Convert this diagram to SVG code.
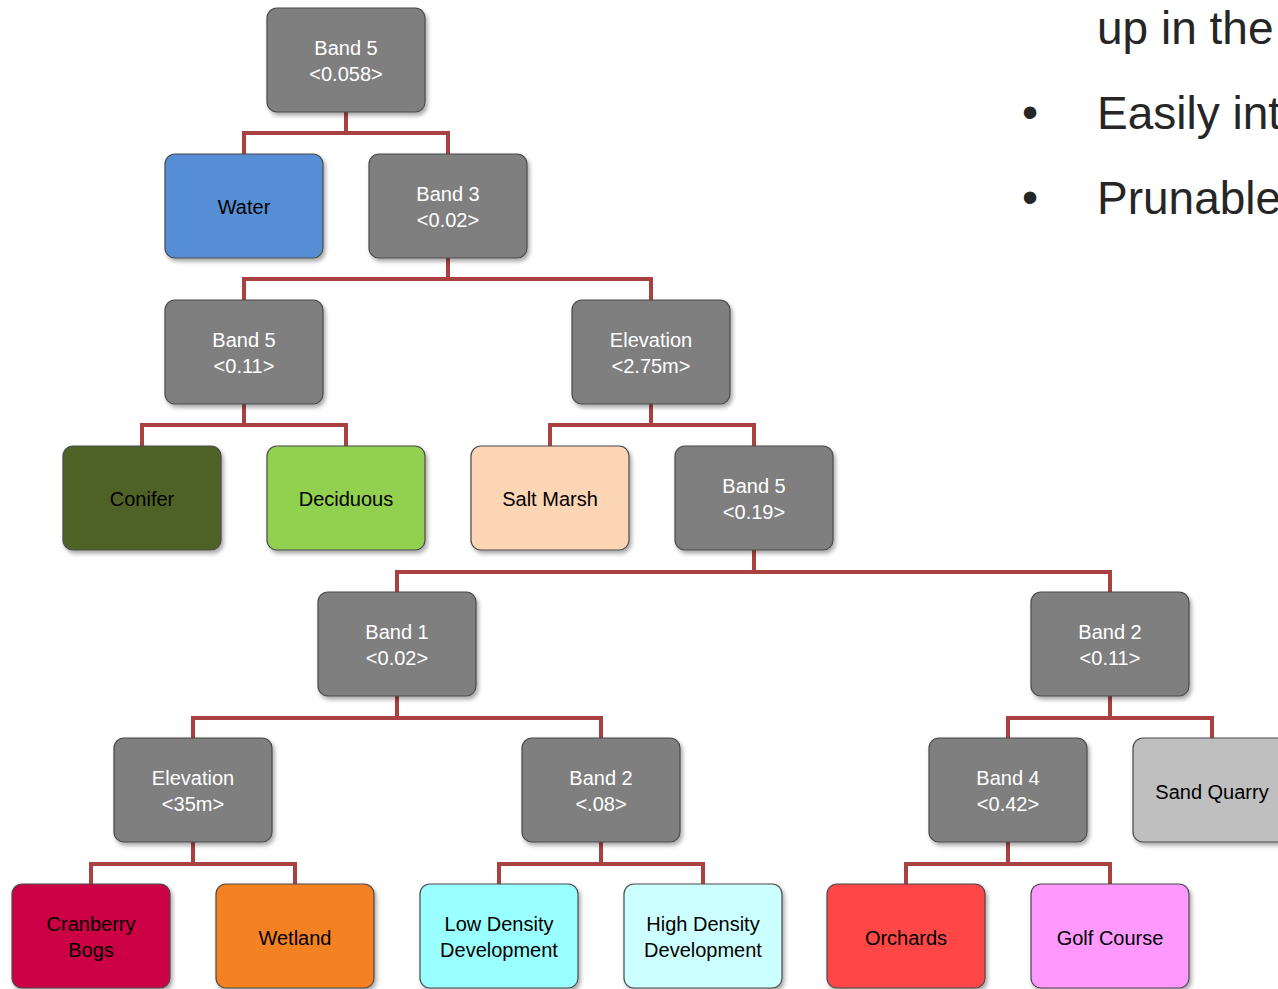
<svg xmlns="http://www.w3.org/2000/svg" width="1278" height="989" viewBox="0 0 1278 989">
<defs>
<filter id="sh" x="-10%" y="-10%" width="125%" height="130%">
<feDropShadow dx="2" dy="3" stdDeviation="2" flood-color="#000" flood-opacity="0.35"/>
</filter>
<style>
.n rect{stroke:#4a4a4a;stroke-width:1.2;filter:url(#sh)}
.g rect{fill:#7f7f7f}
.g text{fill:#ffffff}
text{font-family:"Liberation Sans",Arial,sans-serif;font-size:20px;text-anchor:middle;fill:#000}
.c path{fill:none;stroke:#aa4141;stroke-width:4}
.r text{font-size:46px;text-anchor:start;fill:#262626}
</style>
</defs>
<g class="c" id="connectors">
<path d="M346 112V133H244V154M346 133H448V154"/>
<path d="M448 258V279H244V300M448 279H651V300"/>
<path d="M244 404V425H142V446M244 425H346V446"/>
<path d="M651 404V425H550V446M651 425H754V446"/>
<path d="M754 550V572H397V592M754 572H1110V592"/>
<path d="M397 696V718H193V738M397 718H601V738"/>
<path d="M1110 696V718H1008V738M1110 718H1212V738"/>
<path d="M193 842V864H91V884M193 864H295V884"/>
<path d="M601 842V864H499V884M601 864H703V884"/>
<path d="M1008 842V864H906V884M1008 864H1110V884"/>
</g>
<g id="n1" class="n g"><rect x="267" y="8" width="158" height="104" rx="10"/><text x="346" y="55">Band 5</text><text x="346" y="81">&lt;0.058&gt;</text></g>
<g id="n2" class="n"><rect x="165" y="154" width="158" height="104" rx="10" fill="#558ed5"/><text x="244" y="214">Water</text></g>
<g id="n3" class="n g"><rect x="369" y="154" width="158" height="104" rx="10"/><text x="448" y="201">Band 3</text><text x="448" y="227">&lt;0.02&gt;</text></g>
<g id="n4" class="n g"><rect x="165" y="300" width="158" height="104" rx="10"/><text x="244" y="347">Band 5</text><text x="244" y="373">&lt;0.11&gt;</text></g>
<g id="n5" class="n g"><rect x="572" y="300" width="158" height="104" rx="10"/><text x="651" y="347">Elevation</text><text x="651" y="373">&lt;2.75m&gt;</text></g>
<g id="n6" class="n"><rect x="63" y="446" width="158" height="104" rx="10" fill="#4f6228"/><text x="142" y="506">Conifer</text></g>
<g id="n7" class="n"><rect x="267" y="446" width="158" height="104" rx="10" fill="#92d050"/><text x="346" y="506">Deciduous</text></g>
<g id="n8" class="n"><rect x="471" y="446" width="158" height="104" rx="10" fill="#fcd5b5"/><text x="550" y="506">Salt Marsh</text></g>
<g id="n9" class="n g"><rect x="675" y="446" width="158" height="104" rx="10"/><text x="754" y="493">Band 5</text><text x="754" y="519">&lt;0.19&gt;</text></g>
<g id="n10" class="n g"><rect x="318" y="592" width="158" height="104" rx="10"/><text x="397" y="639">Band 1</text><text x="397" y="665">&lt;0.02&gt;</text></g>
<g id="n11" class="n g"><rect x="1031" y="592" width="158" height="104" rx="10"/><text x="1110" y="639">Band 2</text><text x="1110" y="665">&lt;0.11&gt;</text></g>
<g id="n12" class="n g"><rect x="114" y="738" width="158" height="104" rx="10"/><text x="193" y="785">Elevation</text><text x="193" y="811">&lt;35m&gt;</text></g>
<g id="n13" class="n g"><rect x="522" y="738" width="158" height="104" rx="10"/><text x="601" y="785">Band 2</text><text x="601" y="811">&lt;.08&gt;</text></g>
<g id="n14" class="n g"><rect x="929" y="738" width="158" height="104" rx="10"/><text x="1008" y="785">Band 4</text><text x="1008" y="811">&lt;0.42&gt;</text></g>
<g id="n15" class="n"><rect x="1133" y="738" width="158" height="104" rx="10" fill="#bfbfbf"/><text x="1212" y="799">Sand Quarry</text></g>
<g id="n16" class="n"><rect x="12" y="884" width="158" height="104" rx="10" fill="#cc0044"/><text x="91" y="931">Cranberry</text><text x="91" y="957">Bogs</text></g>
<g id="n17" class="n"><rect x="216" y="884" width="158" height="104" rx="10" fill="#f58220"/><text x="295" y="945">Wetland</text></g>
<g id="n18" class="n"><rect x="420" y="884" width="158" height="104" rx="10" fill="#99ffff"/><text x="499" y="931">Low Density</text><text x="499" y="957">Development</text></g>
<g id="n19" class="n"><rect x="624" y="884" width="158" height="104" rx="10" fill="#ccffff"/><text x="703" y="931">High Density</text><text x="703" y="957">Development</text></g>
<g id="n20" class="n"><rect x="827" y="884" width="158" height="104" rx="10" fill="#ff4646"/><text x="906" y="945">Orchards</text></g>
<g id="n21" class="n"><rect x="1031" y="884" width="158" height="104" rx="10" fill="#ff99ff"/><text x="1110" y="945">Golf Course</text></g>
<g id="side" class="r">
<text x="1097" y="44">up in the</text>
<text x="1022" y="128">•</text>
<text x="1097" y="129">Easily int</text>
<text x="1022" y="213">•</text>
<text x="1097" y="214">Prunable</text>
</g>
</svg>
